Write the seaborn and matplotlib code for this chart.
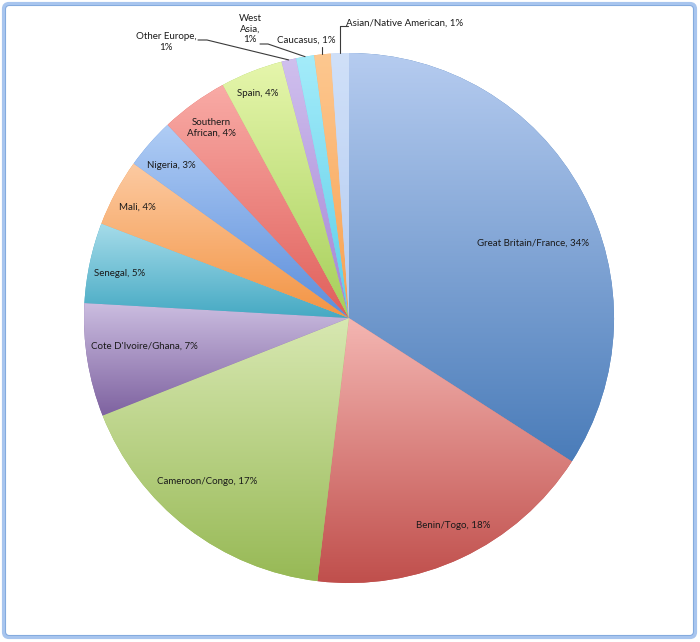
import numpy as np
import matplotlib
matplotlib.use("Agg")
import matplotlib.pyplot as plt
from matplotlib.colors import LinearSegmentedColormap
from matplotlib.patches import FancyBboxPatch
import seaborn as sns

# ancestry shares (percent), clockwise from 12 o'clock
regions = ["Great Britain/France", "Benin/Togo", "Cameroon/Congo",
           "Cote D'Ivoire/Ghana", "Senegal", "Mali", "Nigeria",
           "Southern\nAfrican", "Spain", "Other Europe,\n", "West\nAsia,\n",
           "Caucasus", "Asian/Native American"]
shares = [34.1, 17.8, 17.1, 6.9, 4.9, 4.1, 3.1, 4.1, 3.8, 0.9, 1.1, 1.0, 1.1]

# gradient colours: light at top of each slice, darker at bottom
top_colors = ["#b6ccf0", "#f4b6b2", "#d8e8b2", "#cbbde0", "#a6dcea", "#fccaa2",
              "#b0cdf5", "#f9aba6", "#e6f6ac", "#d0c0ee", "#a4ecfa", "#fdc890", "#d0e0f8"]
bot_colors = ["#4a7cb9", "#c04f4c", "#97b955", "#7e62a0", "#45a9c3", "#f39443",
              "#5c8edb", "#e0605b", "#a6cf5a", "#a484d4", "#5ccde8", "#f8a050", "#b4ccf2"]

# label anchor positions in pixels (x, y from top)
label_pos = [(533, 243), (453, 526), (207, 481), (144, 346), (120, 273), (137, 207),
             (171, 166), (211, 128), (258, 93), (166, 42), (250, 29), (306, 40), (405, 23)]

W, H = 700, 642
cx, cy, R = 349, 318, 265

sns.set_theme(style="white")
plt.rcParams['font.family'] = ['Lato', 'DejaVu Sans']

fig = plt.figure(figsize=(W / 100, H / 100), dpi=100)
ax = fig.add_axes([0, 0, 1, 1])

wedges, _ = ax.pie(shares, startangle=90, counterclock=False, center=(cx, H - cy),
                   radius=R, colors=bot_colors, wedgeprops=dict(linewidth=0))

grad = np.linspace(0, 1, 256).reshape(-1, 1)
for w, c0, c1 in zip(wedges, top_colors, bot_colors):
    bb = w.get_path().get_extents()
    cmap = LinearSegmentedColormap.from_list("g", [c0, c1])
    im = ax.imshow(grad, cmap=cmap, extent=(bb.x0, bb.x1, bb.y0, bb.y1),
                   origin="upper", aspect="auto", zorder=2, interpolation="bilinear")
    im.set_clip_path(w)

# labels
cum = np.cumsum([0] + shares)
for i, (name, (lx, ly)) in enumerate(zip(regions, label_pos)):
    pct = f"{round(shares[i])}%"
    if name.endswith("\n"):
        txt = name + pct
    elif "\n" in name:
        txt = name + ", " + pct
    else:
        txt = name + ", " + pct
    ax.text(lx, H - ly, txt, ha="center", va="center", fontsize=7,
            color="#1a1a1a", zorder=5, linespacing=1.15)

def arc_point(i):
    mid = (cum[i] + shares[i] / 2) / 100 * 2 * np.pi
    return cx + R * np.sin(mid), cy - R * np.cos(mid)

# leader lines for the small slices
lc = dict(color="#3a3a3a", lw=0.8, zorder=4)
ax_, ay_ = arc_point(9)
ax.plot([198, 207, ax_], [H - 40, H - 40, H - ay_], **lc)
ax_, ay_ = arc_point(10)
ax.plot([260, 268, ax_], [H - 44, H - 44, H - ay_], **lc)
ax_, ay_ = arc_point(11)
ax.plot([ax_, ax_], [H - 47, H - ay_], **lc)
ax_, ay_ = arc_point(12)
ax.plot([348, ax_, ax_], [H - 26, H - 26, H - ay_], **lc)

# chart frame
ax.add_patch(FancyBboxPatch((4, H - 637), 691, 633, boxstyle="round,pad=0,rounding_size=5",
                            fill=False, edgecolor="#a8c5ee", lw=3, zorder=6))
ax.add_patch(FancyBboxPatch((5.5, H - 635.5), 688, 630, boxstyle="round,pad=0,rounding_size=4",
                            fill=False, edgecolor="#7ea6dc", lw=0.6, zorder=6))

ax.set_xlim(0, W)
ax.set_ylim(0, H)
ax.set_aspect("equal")
ax.axis("off")

fig.savefig("out.png", dpi=100)
